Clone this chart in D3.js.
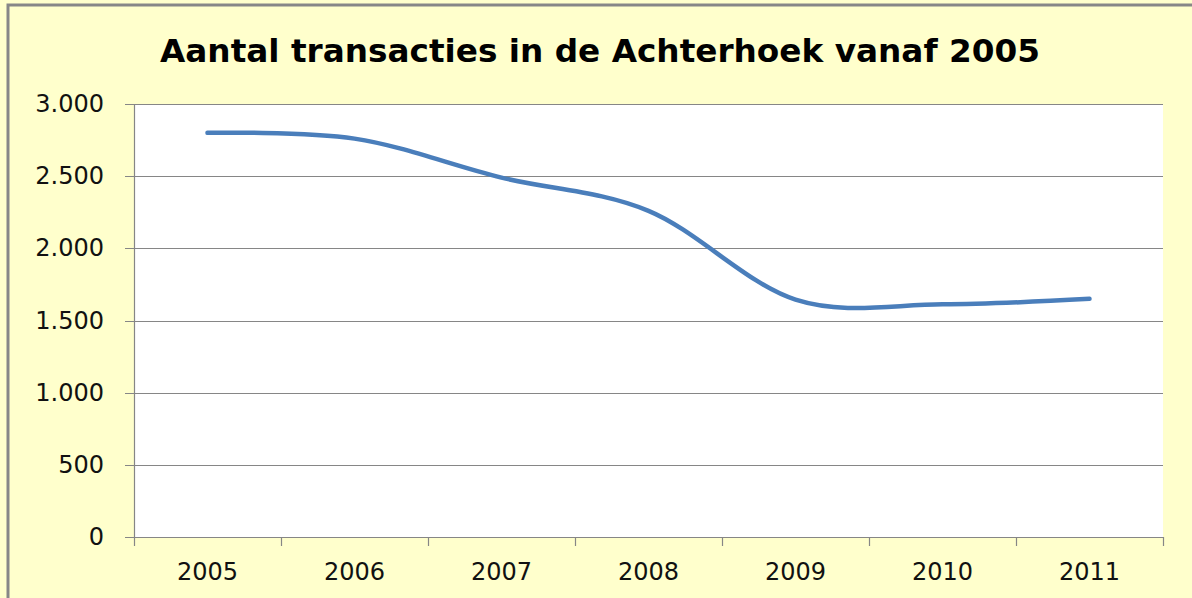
<!DOCTYPE html>
<html>
<head>
<meta charset="utf-8">
<script src="https://cdn.jsdelivr.net/npm/d3@7/dist/d3.min.js"></script>
<style>
  html, body { margin: 0; padding: 0; background: #FFFFCC; }
  svg { display: block; }
</style>
</head>
<body>
<svg id="chart" width="1192" height="598"></svg>
<script>
const titleText = "Aantal transacties in de Achterhoek vanaf 2005";
const years = ["2005", "2006", "2007", "2008", "2009", "2010", "2011"];
const transacties = [2800, 2760, 2490, 2260, 1645, 1612, 1650];
const yTicks = [0, 500, 1000, 1500, 2000, 2500, 3000];

const svg = d3.select("#chart");
const W = 1192, H = 598;
const plot = { left: 134, right: 1163, top: 104, bottom: 537 };

svg.append("rect").attr("width", W).attr("height", H).attr("fill", "#FFFFCC");
// outer border (cropped at right and bottom)
svg.append("rect").attr("x", 8).attr("y", 5).attr("width", W + 20).attr("height", H + 20)
  .attr("fill", "none").attr("stroke", "#878787").attr("stroke-width", 3);

svg.append("rect").attr("x", plot.left).attr("y", plot.top)
  .attr("width", plot.right - plot.left).attr("height", plot.bottom - plot.top)
  .attr("fill", "#FFFFFF");

const x = d3.scaleBand().domain(years).range([plot.left, plot.right]).padding(0);
const y = d3.scaleLinear().domain([0, 3000]).range([plot.bottom, plot.top]);

const fmt = d3.formatLocale({ decimal: ",", thousands: ".", grouping: [3], currency: ["€", ""] }).format(",d");

// gridlines
svg.append("g").selectAll("line").data(yTicks).join("line")
  .attr("x1", plot.left - 9).attr("x2", plot.right)
  .attr("y1", d => Math.round(y(d)) + 0.5).attr("y2", d => Math.round(y(d)) + 0.5)
  .attr("stroke", "#868686").attr("stroke-width", 1.2);

// y axis line
svg.append("line").attr("x1", plot.left + 0.5).attr("x2", plot.left + 0.5)
  .attr("y1", plot.top).attr("y2", plot.bottom)
  .attr("stroke", "#868686").attr("stroke-width", 1.2);

// x tick marks at band boundaries
const bounds = years.map(d => x(d)).concat([x(years[years.length - 1]) + x.bandwidth()]);
svg.append("g").selectAll("line").data(bounds).join("line")
  .attr("x1", d => Math.round(d) + 0.5).attr("x2", d => Math.round(d) + 0.5)
  .attr("y1", plot.bottom).attr("y2", plot.bottom + 9)
  .attr("stroke", "#868686").attr("stroke-width", 1.2);

// y labels
svg.append("g").selectAll("text").data(yTicks).join("text")
  .attr("x", 104).attr("y", d => y(d) + 8)
  .attr("text-anchor", "end")
  .attr("font-family", "DejaVu Sans").attr("font-size", 24).attr("fill", "#111")
  .text(d => fmt(d));

// x labels
svg.append("g").selectAll("text").data(years).join("text")
  .attr("x", d => x(d) + x.bandwidth() / 2).attr("y", 580)
  .attr("text-anchor", "middle")
  .attr("font-family", "DejaVu Sans").attr("font-size", 24).attr("fill", "#111")
  .text(d => d);

// line
const line = d3.line()
  .x((d, i) => x(years[i]) + x.bandwidth() / 2)
  .y(d => y(d))
  .curve(d3.curveCardinal.tension(0));
svg.append("path").datum(transacties)
  .attr("d", line).attr("fill", "none")
  .attr("stroke", "#4A7EBB").attr("stroke-width", 4.5)
  .attr("stroke-linecap", "round").attr("stroke-linejoin", "round");

// title
svg.append("text").attr("x", 600).attr("y", 62)
  .attr("text-anchor", "middle")
  .attr("font-family", "DejaVu Sans").attr("font-weight", "bold").attr("font-size", 32)
  .attr("fill", "#000")
  .attr("textLength", 880).attr("lengthAdjust", "spacingAndGlyphs")
  .text(titleText);
</script>
</body>
</html>
